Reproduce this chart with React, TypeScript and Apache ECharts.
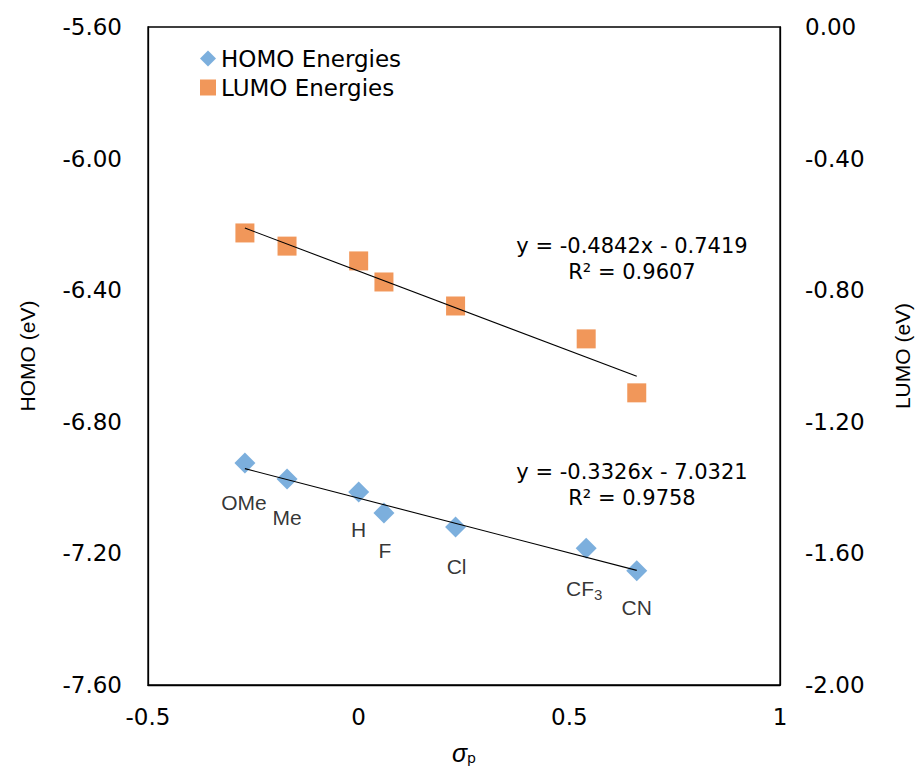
import React, { useEffect, useRef } from "react";
import * as echarts from "echarts";

const sigma = [-0.27, -0.17, 0, 0.06, 0.23, 0.54, 0.66];
const substituents = ["OMe", "Me", "H", "F", "Cl", "CF3", "CN"];
const homo = [-6.925, -6.974, -7.013, -7.077, -7.12, -7.184, -7.253];
const lumo = [-0.626, -0.666, -0.711, -0.775, -0.848, -0.948, -1.112];
const labelOffsets = [[-1, 2], [0, 0], [0, 0], [1, 0], [1, 1], [-2, -1], [0, -1]];
const homoFit = { slope: -0.3326, intercept: -7.0321, r2: "0.9758" };
const lumoFit = { slope: -0.4842, intercept: -0.7419, r2: "0.9607" };
const xTicks = { min: -0.5, max: 1, interval: 0.5 };
const homoTicks = { min: -7.6, max: -5.6, interval: 0.4 };
const lumoTicks = { min: -2, max: 0, interval: 0.4 };

const VERDANA = 'Verdana, "DejaVu Sans", sans-serif';
const ARIAL = '"Liberation Sans", Arial, sans-serif';

export default function App() {
  const ref = useRef<HTMLDivElement>(null);
  useEffect(() => {
    const chart = echarts.init(ref.current!, null, { renderer: "svg" });
    const xs = [sigma[0], sigma[sigma.length - 1]];
    const fitLine = (f: { slope: number; intercept: number }) =>
      xs.map((x) => [x, f.slope * x + f.intercept]);
    const tickLabel = { fontFamily: VERDANA, fontSize: 23, color: "#000" };
    const axisLine = { show: true, onZero: false, lineStyle: { color: "#000", width: 1.3 } };
    chart.setOption({
      animation: false,
      backgroundColor: "#fff",
      grid: {
        left: 148,
        right: 142,
        top: 27,
        bottom: 83,
        show: true,
        borderColor: "#000",
        borderWidth: 1.3,
        containLabel: false,
        outerBoundsMode: "none",
      },
      legend: {
        orient: "vertical",
        left: 195,
        top: 42,
        itemGap: 6,
        itemWidth: 16,
        itemHeight: 16,
        data: ["HOMO Energies", "LUMO Energies"],
        textStyle: { fontFamily: VERDANA, fontSize: 23, color: "#000" },
      },
      xAxis: {
        type: "value",
        min: xTicks.min,
        max: xTicks.max,
        interval: xTicks.interval,
        splitLine: { show: false },
        axisTick: { show: false },
        axisLine,
        axisLabel: { ...tickLabel, margin: 20, formatter: (v: number) => String(Math.round(v * 10) / 10) },
        name: "{s|σ}{p|p}",
        nameLocation: "middle",
        nameGap: 55,
        nameTextStyle: {
          rich: {
            s: { fontFamily: ARIAL, fontStyle: "italic", fontSize: 25, color: "#000" },
            p: { fontFamily: VERDANA, fontSize: 14, color: "#000", verticalAlign: "bottom" },
          },
        },
      },
      yAxis: [
        {
          type: "value",
          min: homoTicks.min,
          max: homoTicks.max,
          interval: homoTicks.interval,
          splitLine: { show: false },
          axisTick: { show: false },
          axisLine,
          axisLabel: { ...tickLabel, margin: 26, formatter: (v: number) => v.toFixed(2) },
          name: "HOMO (eV)",
          nameLocation: "middle",
          nameGap: 110,
          nameTextStyle: { fontFamily: ARIAL, fontSize: 21, color: "#000" },
        },
        {
          type: "value",
          min: lumoTicks.min,
          max: lumoTicks.max,
          interval: lumoTicks.interval,
          position: "right",
          splitLine: { show: false },
          axisTick: { show: false },
          axisLine,
          axisLabel: { ...tickLabel, margin: 25, formatter: (v: number) => v.toFixed(2) },
          name: "LUMO (eV)",
          nameLocation: "middle",
          nameGap: 112,
          nameRotate: 90,
          nameTextStyle: { fontFamily: ARIAL, fontSize: 21, color: "#000" },
        },
      ],
      series: [
        {
          name: "HOMO Energies",
          type: "scatter",
          yAxisIndex: 0,
          symbol: "diamond",
          symbolSize: 21,
          itemStyle: { color: "#5B9BD5" },
          data: sigma.map((x, i) => ({
            value: [x, homo[i]],
            label: {
              show: true,
              position: "bottom",
              distance: 17,
              offset: labelOffsets[i],
              formatter: substituents[i] === "CF3" ? "CF{sub|3}" : substituents[i],
              fontFamily: ARIAL,
              fontSize: 21,
              color: "#000",
              rich: {
                sub: { fontFamily: ARIAL, fontSize: 15, color: "#000", verticalAlign: "bottom", padding: [12, 0, 0, 0] },
              },
            },
          })),
          z: 3,
        },
        {
          name: "LUMO Energies",
          type: "scatter",
          yAxisIndex: 1,
          symbol: "rect",
          symbolSize: 19,
          itemStyle: { color: "#ED7D31" },
          data: sigma.map((x, i) => [x, lumo[i]]),
          z: 3,
        },
        {
          name: "HOMO fit",
          type: "line",
          yAxisIndex: 0,
          symbol: "none",
          lineStyle: { color: "#000", width: 1.1 },
          data: fitLine(homoFit),
          z: 4,
        },
        {
          name: "LUMO fit",
          type: "line",
          yAxisIndex: 1,
          symbol: "none",
          lineStyle: { color: "#000", width: 1.1 },
          data: fitLine(lumoFit),
          z: 4,
        },
      ],
      graphic: [
        { type: "text", x: 632, y: 246, style: { text: `y = ${lumoFit.slope}x - ${Math.abs(lumoFit.intercept)}`, font: `21px ${VERDANA}`, fill: "#000", align: "center", verticalAlign: "middle" } },
        { type: "text", x: 632, y: 272, style: { text: `R² = ${lumoFit.r2}`, font: `21px ${VERDANA}`, fill: "#000", align: "center", verticalAlign: "middle" } },
        { type: "text", x: 632, y: 472, style: { text: `y = ${homoFit.slope}x - ${Math.abs(homoFit.intercept)}`, font: `21px ${VERDANA}`, fill: "#000", align: "center", verticalAlign: "middle" } },
        { type: "text", x: 632, y: 498, style: { text: `R² = ${homoFit.r2}`, font: `21px ${VERDANA}`, fill: "#000", align: "center", verticalAlign: "middle" } },
      ],
    });
    return () => chart.dispose();
  }, []);
  return <div ref={ref} style={{ width: 922, height: 768, position: "absolute", left: 0, top: 0 }} />;
}
